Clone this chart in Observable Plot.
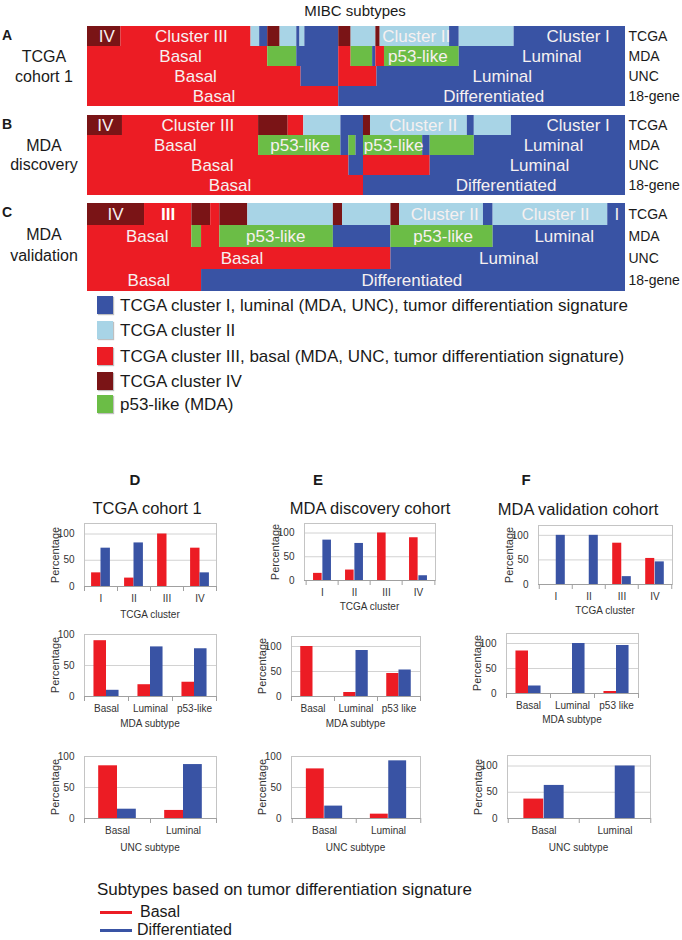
<!DOCTYPE html>
<html><head><meta charset="utf-8">
<script src="https://cdn.jsdelivr.net/npm/d3@7"></script>
<script src="https://cdn.jsdelivr.net/npm/@observablehq/plot@0.6"></script>
<style>
body{margin:0;background:#fff;}
#root{position:relative;width:682px;height:940px;overflow:hidden;font-family:"Liberation Sans",Arial,Helvetica,sans-serif;color:#1a1a1a;}
</style></head><body><div id="root"></div>
<script>
// ---------------- DATA ----------------
const rowNames = ["TCGA", "MDA", "UNC", "18-gene"];
const catNames = ["I", "II", "III", "IV", "p53"];
const catColors = ["#3953a4", "#a8d4e6", "#ec1c24", "#7a1416", "#6bbd46"];
const legendLabels = [
  "TCGA cluster I, luminal (MDA, UNC), tumor differentiation signature",
  "TCGA cluster II",
  "TCGA cluster III, basal (MDA, UNC, tumor differentiation signature)",
  "TCGA cluster IV",
  "p53-like (MDA)"
];

// heatmap segments: [start % of samples, end %, category]
const A_TCGA = [[0,6.2,"IV"],[6.2,30.4,"III"],[30.4,32.0,"II"],[32.0,33.5,"I"],[33.5,35.8,"IV"],[35.8,38.9,"II"],[38.9,39.5,"I"],[39.5,40.4,"II"],[40.4,46.7,"I"],[46.7,49.0,"IV"],[49.0,53.6,"II"],[53.6,54.4,"IV"],[54.4,67.3,"II"],[67.3,69.1,"I"],[69.1,79.3,"II"],[79.3,100,"I"]];
const A_MDA = [[0,33.5,"III"],[33.5,38.9,"p53"],[38.9,46.7,"I"],[46.7,49.0,"III"],[49.0,53.0,"p53"],[53.0,53.6,"I"],[53.6,55.2,"III"],[55.2,69.1,"p53"],[69.1,100,"I"]];
const A_UNC = [[0,39.7,"III"],[39.7,46.7,"I"],[46.7,53.8,"III"],[53.8,100,"I"]];
const A_18 = [[0,46.7,"III"],[46.7,100,"I"]];

const B_TCGA = [[0,6.5,"IV"],[6.5,31.8,"III"],[31.8,37.3,"IV"],[37.3,40.2,"III"],[40.2,47.1,"II"],[47.1,51.3,"I"],[51.3,52.6,"IV"],[52.6,70.6,"II"],[70.6,71.9,"I"],[71.9,78.8,"II"],[78.8,100,"I"]];
const B_MDA = [[0,31.8,"III"],[31.8,47.1,"p53"],[47.1,48.6,"I"],[48.6,49.9,"p53"],[49.9,51.3,"I"],[51.3,62.3,"p53"],[62.3,63.7,"I"],[63.7,71.9,"p53"],[71.9,100,"I"]];
const B_UNC = [[0,48.6,"III"],[48.6,51.3,"I"],[51.3,63.7,"III"],[63.7,100,"I"]];
const B_18 = [[0,51.3,"III"],[51.3,100,"I"]];

const C_TCGA = [[0,10.6,"IV"],[10.6,19.4,"III"],[19.4,22.9,"IV"],[22.9,24.6,"III"],[24.6,29.8,"IV"],[29.8,45.7,"II"],[45.7,47.4,"IV"],[47.4,56.4,"II"],[56.4,58.0,"IV"],[58.0,73.6,"II"],[73.6,75.4,"I"],[75.4,96.7,"II"],[96.7,100,"I"]];
const C_MDA = [[0,19.4,"III"],[19.4,21.2,"p53"],[21.2,24.6,"III"],[24.6,45.7,"p53"],[45.7,56.4,"I"],[56.4,75.4,"p53"],[75.4,100,"I"]];
const C_UNC = [[0,56.4,"III"],[56.4,100,"I"]];
const C_18 = [[0,21.2,"III"],[21.2,100,"I"]];

// in-heatmap labels: [x %, row, text]
const A_labels = [[3.6,"TCGA","IV"],[19.3,"TCGA","Cluster III"],[61.1,"TCGA","Cluster II"],[91.2,"TCGA","Cluster I"],
  [17.3,"MDA","Basal"],[61.4,"MDA","p53-like"],[86.3,"MDA","Luminal"],
  [20.1,"UNC","Basal"],[77.1,"UNC","Luminal"],[23.5,"18-gene","Basal"],[75.5,"18-gene","Differentiated"]];
const B_labels = [[3.3,"TCGA","IV"],[20.5,"TCGA","Cluster III"],[62.4,"TCGA","Cluster II"],[91.2,"TCGA","Cluster I"],
  [16.3,"MDA","Basal"],[39.5,"MDA","p53-like"],[56.9,"MDA","p53-like"],[86.6,"MDA","Luminal"],
  [23.2,"UNC","Basal"],[84.0,"UNC","Luminal"],[26.5,"18-gene","Basal"],[77.8,"18-gene","Differentiated"]];
const C_labels = [[5.2,"TCGA","IV"],[66.4,"TCGA","Cluster II"],[87.0,"TCGA","Cluster II"],[98.4,"TCGA","I"],
  [11.1,"MDA","Basal"],[35.0,"MDA","p53-like"],[66.1,"MDA","p53-like"],[88.6,"MDA","Luminal"],
  [28.7,"UNC","Basal"],[78.3,"UNC","Luminal"],[11.4,"18-gene","Basal"],[60.3,"18-gene","Differentiated"]];
const C_boldLabels = [[15.0,"TCGA","III"]];

// bar charts (percentage)
const tcgaClusters = ["I", "II", "III", "IV"];
const mdaSubtypesD = ["Basal", "Luminal", "p53-like"];
const mdaSubtypesEF = ["Basal", "Luminal", "p53 like"];
const uncSubtypes = ["Basal", "Luminal"];
const D1_basal = [26, 16, 100, 73], D1_diff = [73, 83, 0, 26];
const E1_basal = [15, 22, 100, 90], E1_diff = [85, 78, 0, 10];
const F1_basal = [0, 0, 84, 53],    F1_diff = [100, 100, 16, 46];
const D2_basal = [90, 19, 23], D2_diff = [10, 80, 77];
const E2_basal = [100, 8, 46], E2_diff = [0, 92, 53];
const F2_basal = [85, 0, 4],   F2_diff = [15, 100, 96];
const D3_basal = [85, 13], D3_diff = [15, 87];
const E3_basal = [80, 7],  E3_diff = [20, 93];
const F3_basal = [37, 0],  F3_diff = [63, 100];
const yTickValues = [0, 50, 100];

// ---------------- LAYOUT ----------------
const root = document.getElementById("root");
const FONT = "'Liberation Sans', Arial, Helvetica, sans-serif";
const SMALL = "'Liberation Sans Narrow','Arial Narrow','Liberation Sans',Arial,sans-serif";
const RED = "#ec1c24", BLUE = "#3953a4";

function put(el, x, y) {
  el.style.position = "absolute"; el.style.left = x + "px"; el.style.top = y + "px";
  root.appendChild(el);
}
function label(text, x, y, o = {}) {
  const d = document.createElement("div");
  d.textContent = text;
  const size = o.size || 16;
  d.style.cssText = `position:absolute;left:${x}px;top:${y}px;font-size:${size}px;font-weight:${o.weight||"normal"};white-space:nowrap;line-height:1;color:${o.color||"#1a1a1a"};font-family:${o.family||FONT};letter-spacing:${o.ls||0}px;`;
  const tx = o.anchor === "start" ? "0" : o.anchor === "end" ? "-100%" : "-50%";
  d.style.transform = `translate(${tx},-50%)` + (o.rotate ? ` rotate(${o.rotate}deg)` : "");
  root.appendChild(d);
}

// ---- heatmaps ----
const HM_L = 87, HM_W = 538;
function heatmap(rows, labels, boldLabels, top, height) {
  const data = [];
  rowNames.forEach((r, i) => rows[i].forEach(([s, e, c]) => data.push({row: r, s, e, c})));
  const lab = labels.map(([x, row, t]) => ({x, row, t}));
  const bold = boldLabels.map(([x, row, t]) => ({x, row, t}));
  const svg = Plot.plot({
    width: HM_W + 57, height,
    marginLeft: 0, marginRight: 57, marginTop: 0, marginBottom: 0,
    x: {domain: [0, 100], axis: null},
    y: {domain: rowNames, axis: "right", tickSize: 0, tickPadding: 3, label: null, padding: 0},
    color: {domain: catNames, range: catColors},
    style: {fontSize: "14px", fontFamily: FONT, color: "#1a1a1a", background: "none", overflow: "visible"},
    marks: [
      Plot.barX(data, {x1: "s", x2: "e", y: "row", fill: "c"}),
      Plot.text(lab, {x: "x", y: "row", text: "t", fill: "#f6f0f0", fontSize: 17}),
      Plot.text(bold, {x: "x", y: "row", text: "t", fill: "#fff", fontSize: 17, fontWeight: "bold"})
    ]
  });
  put(svg, HM_L, top);
}

label("MIBC subtypes", 355, 10, {size: 15});
heatmap([A_TCGA, A_MDA, A_UNC, A_18], A_labels, [], 25, 81);
heatmap([B_TCGA, B_MDA, B_UNC, B_18], B_labels, [], 114, 81);
heatmap([C_TCGA, C_MDA, C_UNC, C_18], C_labels, C_boldLabels, 202, 89);

label("A", 2, 35, {size: 14, weight: "bold", anchor: "start"});
label("TCGA", 44, 57, {size: 16}); label("cohort 1", 44, 77, {size: 16});
label("B", 2, 124, {size: 14, weight: "bold", anchor: "start"});
label("MDA", 44, 146, {size: 16}); label("discovery", 44, 165, {size: 16});
label("C", 2, 212, {size: 14, weight: "bold", anchor: "start"});
label("MDA", 44, 235, {size: 16}); label("validation", 44, 256, {size: 16});

// legend (colour key)
const legY = [305, 330, 356, 381, 404];
legendLabels.forEach((t, i) => {
  const sq = document.createElement("div");
  sq.style.cssText = `width:16px;height:18px;background:${catColors[i]};box-shadow:1px 1px 1px rgba(0,0,0,0.25);`;
  put(sq, 97, legY[i] - 9);
  label(t, 120, legY[i], {size: 17, anchor: "start"});
});

// ---- bar charts ----
function barChart(cats, basal, diff, g, xTitle, titleDy) {
  const mL = 40, mR = 4, mT = 2, mB = 20;
  const W = g.R - g.L, H = g.Z - g.T;
  const bw = W / cats.length;
  const tickLen = -5 * g.M / H;  // small Excel-style category ticks below the axis
  const data = cats.map((c, i) => ({c, b: basal[i], d: diff[i]}));
  const svg = Plot.plot({
    width: W + mL + mR, height: H + mT + mB,
    marginLeft: mL, marginRight: mR, marginTop: mT, marginBottom: mB,
    x: {domain: cats, padding: 0, tickSize: 0, tickPadding: 8, label: null},
    y: {domain: [0, g.M], ticks: yTickValues, tickSize: 0, tickPadding: 10, label: null},
    style: {fontSize: "10px", fontFamily: SMALL, color: "#333", background: "none", overflow: "visible"},
    marks: [
      Plot.ruleY(yTickValues.filter(v => v > 0), {stroke: "#d2d2d2"}),
      Plot.frame({stroke: "#c4c4c4"}),
      Plot.barY(data, {x: "c", y: "b", fill: RED, insetLeft: bw * 0.215, insetRight: bw * 0.5}),
      Plot.barY(data, {x: "c", y: "d", fill: BLUE, insetLeft: bw * 0.5, insetRight: bw * 0.215}),
      Plot.ruleY([0], {stroke: "#a0a0a0"}),
      Plot.ruleX(cats, {x: d => d, dx: -bw / 2, y1: 0, y2: tickLen, stroke: "#a0a0a0"}),
      Plot.ruleX(cats.slice(-1), {x: d => d, dx: bw / 2, y1: 0, y2: tickLen, stroke: "#a0a0a0"})
    ]
  });
  put(svg, g.L - mL, g.T - mT);
  label(xTitle, (g.L + g.R) / 2, g.Z + titleDy, {size: 10, family: SMALL, color: "#333"});
  label("Percentage", g.L - 29, (g.T + g.Z) / 2, {size: 11, family: SMALL, rotate: -90, color: "#333"});
}

label("D", 135, 479, {size: 15, weight: "bold"});
label("E", 318, 479, {size: 15, weight: "bold"});
label("F", 526, 479, {size: 15, weight: "bold"});
label("TCGA cohort 1", 147, 508, {size: 16.5});
label("MDA discovery cohort", 370, 508, {size: 16.5});
label("MDA validation cohort", 578, 509, {size: 16.5});

barChart(tcgaClusters, D1_basal, D1_diff, {L: 84, R: 216, T: 523, Z: 586, M: 120}, "TCGA cluster", 29);
barChart(tcgaClusters, E1_basal, E1_diff, {L: 304, R: 435, T: 523, Z: 580, M: 120}, "TCGA cluster", 27);
barChart(tcgaClusters, F1_basal, F1_diff, {L: 538, R: 672, T: 525, Z: 584, M: 120}, "TCGA cluster", 27);
barChart(mdaSubtypesD, D2_basal, D2_diff, {L: 84, R: 216, T: 634, Z: 696, M: 100}, "MDA subtype", 28);
barChart(mdaSubtypesEF, E2_basal, E2_diff, {L: 291, R: 420, T: 636, Z: 696, M: 120}, "MDA subtype", 28);
barChart(mdaSubtypesEF, F2_basal, F2_diff, {L: 506, R: 638, T: 633, Z: 693, M: 120}, "MDA subtype", 27);
barChart(uncSubtypes, D3_basal, D3_diff, {L: 84, R: 216, T: 756, Z: 818, M: 100}, "UNC subtype", 30);
barChart(uncSubtypes, E3_basal, E3_diff, {L: 291, R: 420, T: 756, Z: 818, M: 100}, "UNC subtype", 30);
barChart(uncSubtypes, F3_basal, F3_diff, {L: 507, R: 650, T: 755, Z: 818, M: 120}, "UNC subtype", 30);

// bottom legend
label("Subtypes based on tumor differentiation signature", 97, 889, {size: 17, anchor: "start"});
[["Basal", RED, 912, 140], ["Differentiated", BLUE, 930, 137]].forEach(([t, c, y, tx]) => {
  const ln = document.createElement("div");
  ln.style.cssText = `width:32px;height:3px;background:${c};`;
  put(ln, 100, y - 1);
  label(t, tx, y, {size: 16, anchor: "start"});
});
</script></body></html>
